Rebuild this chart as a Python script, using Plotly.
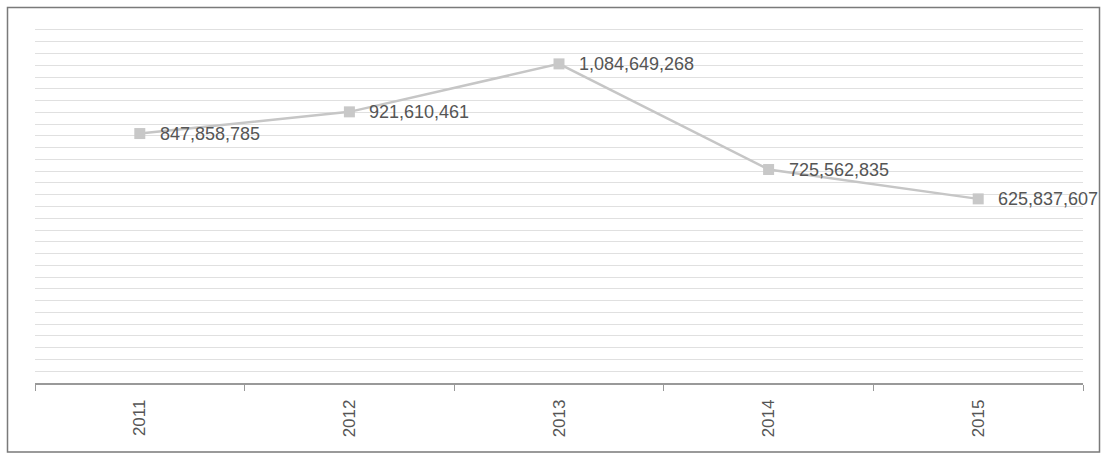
import plotly.graph_objects as go

years = ["2011", "2012", "2013", "2014", "2015"]
values = [847858785, 921610461, 1084649268, 725562835, 625837607]
labels = ["847,858,785", "921,610,461", "1,084,649,268", "725,562,835", "625,837,607"]

FONT = "Liberation Sans, Arial, sans-serif"

fig = go.Figure()
fig.add_trace(go.Scatter(
    x=years, y=values,
    mode="lines+markers",
    line=dict(color="#c6c6c6", width=2.5),
    marker=dict(symbol="square", size=11, color="#c8c8c8"),
    cliponaxis=False,
    hoverinfo="skip",
))

# category axis: annotations use the category serial number
for i, (v, lab) in enumerate(zip(values, labels)):
    fig.add_annotation(
        x=i, y=v, xref="x", yref="y", text=lab, showarrow=False,
        xanchor="left", yanchor="middle", xshift=18,
        font=dict(family=FONT, size=18, color="#555555"),
    )

W, H = 1103, 456
L, R, T, B = 35, 20, 27, 73
pw, ph = W - L - R, H - T - B

def px_x(p):
    return (p - L) / pw

def px_y(p):
    return (H - B - p) / ph

fig.update_layout(
    width=W, height=H,
    margin=dict(l=L, r=R, t=T, b=B),
    paper_bgcolor="white", plot_bgcolor="white",
    showlegend=False,
    font=dict(family=FONT),
    xaxis=dict(
        type="category",
        categoryorder="array", categoryarray=years,
        range=[-0.5, len(years) - 0.5],
        tickangle=-90,
        tickson="boundaries",
        ticks="outside", ticklen=6, tickcolor="#999999",
        showline=True, linecolor="#999999", linewidth=1.5,
        showgrid=False,
        tickfont=dict(family=FONT, size=17, color="#555555"),
        ticklabelstandoff=8,
    ),
    yaxis=dict(
        range=[0, 1.21e9],
        tick0=0, dtick=4e7,
        showgrid=True, gridcolor="#e0e0e0", gridwidth=1,
        showticklabels=False, zeroline=False, showline=False,
    ),
    shapes=[dict(
        type="rect", xref="paper", yref="paper",
        x0=px_x(7.5), x1=px_x(1099.5), y0=px_y(452), y1=px_y(7.5),
        line=dict(color="#7a7a7a", width=1.5),
    )],
)

fig.write_html(
    "out.html",
    config={"displayModeBar": False},
    post_script="document.body.style.margin='0';document.body.style.overflow='hidden';",
)
